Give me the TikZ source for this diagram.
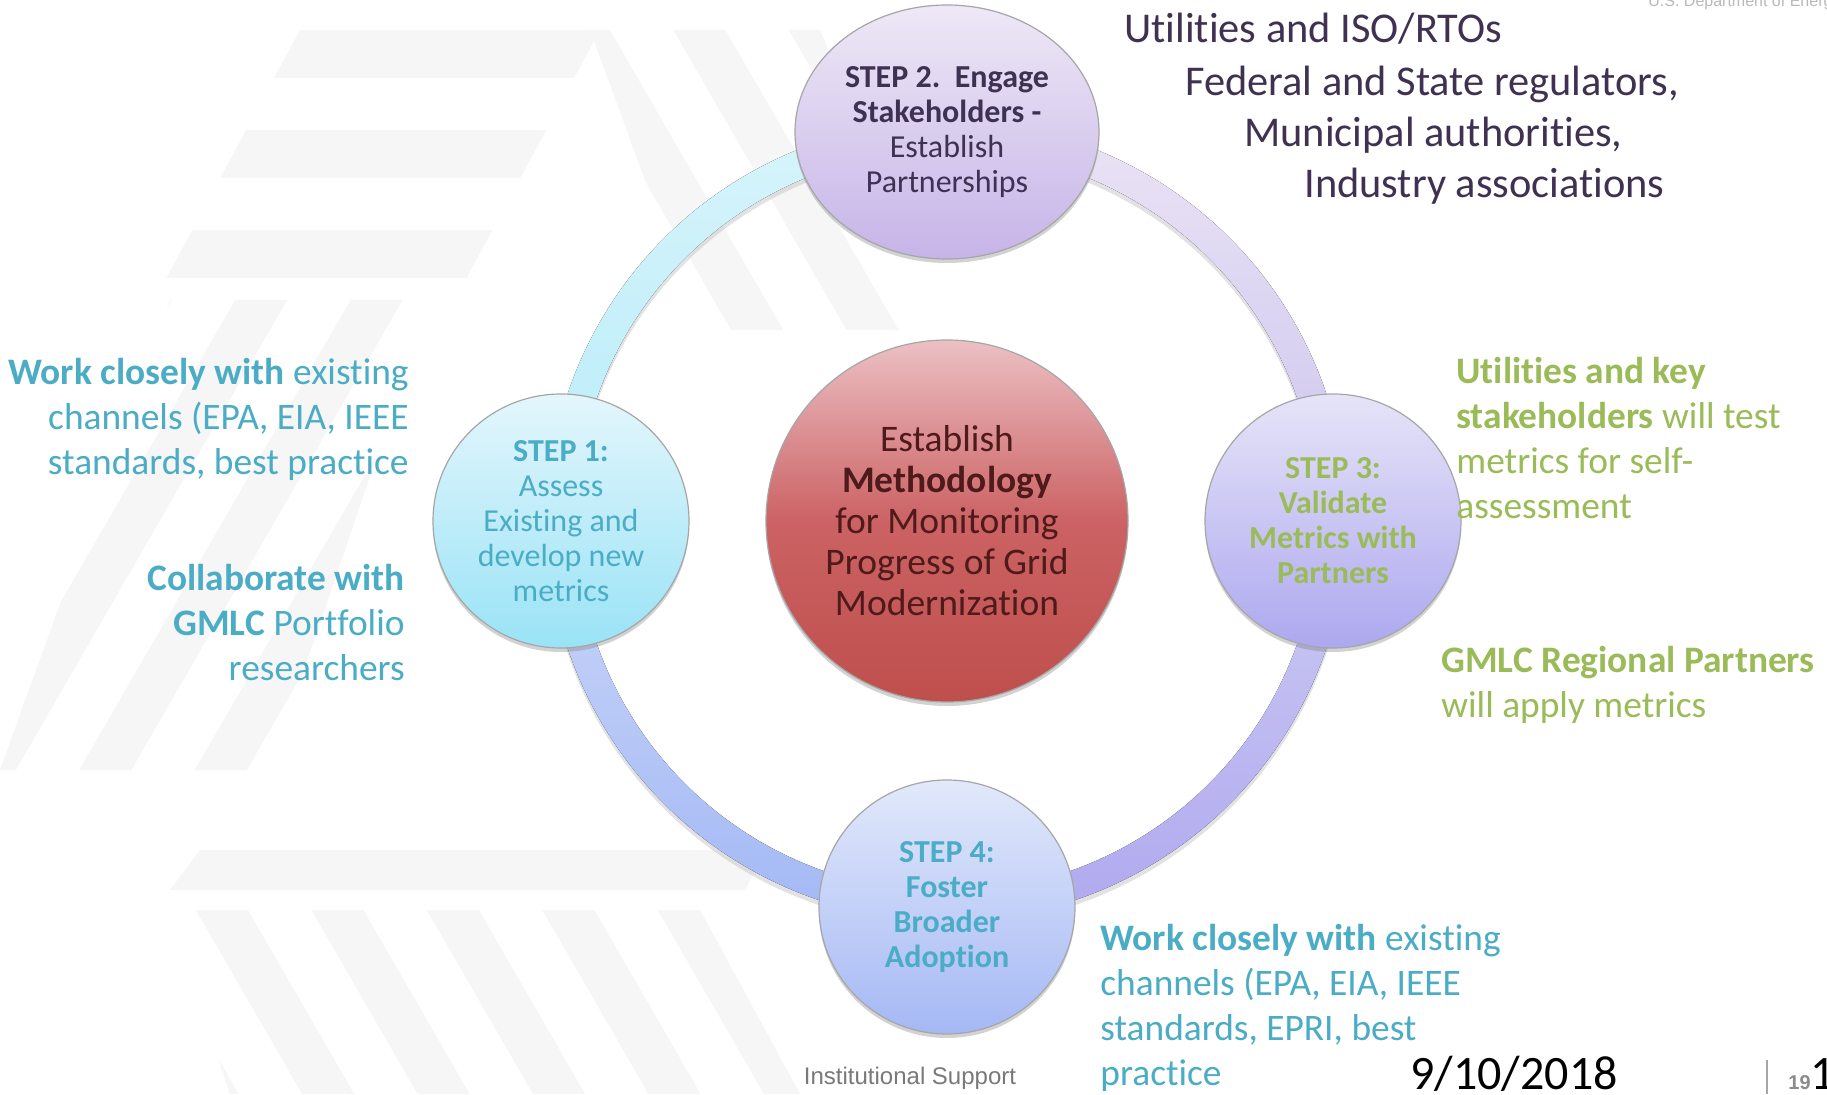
\documentclass[tikz,border=0pt]{standalone}
\usepackage{fontspec}
\setmainfont{Carlito}[Ligatures=NoCommon]
\newfontfamily\arialfont{Liberation Sans}
\usepackage{tikz}
\usetikzlibrary{positioning, calc, shapes.geometric, shadows}

\definecolor{tealtxt}{HTML}{4BACC6}
\definecolor{greentxt}{HTML}{9BBB59}
\definecolor{purpletxt}{HTML}{3F3151}
\definecolor{redtxt}{HTML}{4E1A1A}
\definecolor{ringtl}{HTML}{D8F4FB}
\definecolor{ringtlb}{HTML}{B6ECF9}
\definecolor{ringtr}{HTML}{EBE4F5}
\definecolor{ringtrb}{HTML}{CBC4EE}
\definecolor{ringbl}{HTML}{CBD7F8}
\definecolor{ringblb}{HTML}{A3B8F5}
\definecolor{ringbr}{HTML}{CCCBF3}
\definecolor{ringbrb}{HTML}{B0A9EF}

\tikzset{
  stepcircle/.style={ellipse, draw=gray!70, line width=0.6pt, align=center, inner sep=0pt,
    minimum width=128pt, minimum height=127pt,
    drop shadow={shadow xshift=0pt, shadow yshift=-2pt, opacity=.35},
    font=\fontsize{16}{17.5}\selectfont},
  sidetext/.style={inner sep=0pt, font=\fontsize{18.7}{22.5}\selectfont},
  toptext/.style={anchor=base west, inner sep=0pt, text=purpletxt, font=\fontsize{21.2}{25}\selectfont},
  stripe/.style={fill=gray!7}
}

\begin{document}
\begin{tikzpicture}[x=0.5pt, y=0.5pt, node distance=193pt]
  \useasboundingbox (0,0) rectangle (1827,1094);
  \fill[white] (0,0) rectangle (1827,1094);

  % faint logo watermark
  \begin{scope}
    \clip (300,1064) -- (600,1064) -- (460,804) -- (160,804) -- cycle;
    \foreach \k in {0,1,2}
      \fill[stripe] (0,{816+\k*100}) rectangle (1000,{864+\k*100});
  \end{scope}
  \begin{scope}
    \clip (590,1064) -- (820,1064) -- (940,764) -- (700,764) -- cycle;
    \foreach \k in {-4,...,4}
      \fill[stripe, rotate around={30:(760,914)}] ({760+\k*100},400) rectangle ++(45,1000);
  \end{scope}
  \begin{scope}
    \clip (170,794) -- (430,794) -- (270,324) -- (0,324) -- cycle;
    \foreach \k in {-5,...,5}
      \fill[stripe, rotate around={-30:(215,559)}] ({215+\k*100},0) rectangle ++(45,1200);
  \end{scope}
  \fill[stripe] (200,244) -- (765,244) -- (745,204) -- (170,204) -- cycle;
  \begin{scope}
    \clip (170,184) -- (700,184) -- (800,0) -- (230,0) -- cycle;
    \foreach \k in {-6,...,6}
      \fill[stripe, rotate around={30:(480,92)}] ({480+\k*100},-500) rectangle ++(45,1200);
  \end{scope}

  % ring
  \coordinate (hub) at (947,573);
  \fill[gray!45, opacity=.5, even odd rule] ($(hub)+(0,-5)$) circle[radius=400] circle[radius=371];
  \foreach \sa/\ct/\cb in {90/ringtl/ringtlb, 0/ringtr/ringtrb, 180/ringbl/ringblb, 270/ringbr/ringbrb}
    \fill[top color=\ct, bottom color=\cb]
      ($(hub)+(\sa:400)$) arc[start angle=\sa, delta angle=90, radius=400]
      -- ($(hub)+({\sa+90}:371)$) arc[start angle={\sa+90}, delta angle=-90, radius=371] -- cycle;

  % circles
  \node[stepcircle, circle, minimum size=181pt, font=\fontsize{18.75}{20.5}\selectfont, text=redtxt,
    top color={rgb,255:red,236;green,192;blue,196}, bottom color={rgb,255:red,190;green,79;blue,76},
    middle color={rgb,255:red,204;green,98;blue,100}] (method) at (hub)
    {Establish\\\textbf{Methodology}\\for Monitoring\\Progress of Grid\\Modernization};
  \node[stepcircle, left of=method, text=tealtxt,
    top color={rgb,255:red,228;green,246;blue,252}, bottom color={rgb,255:red,153;green,227;blue,246}] (s1)
    {\textbf{STEP 1:}\\Assess\\Existing and\\develop new\\metrics};
  \node[stepcircle, above of=method, node distance=194.5pt, minimum width=152pt, text=purpletxt,
    top color={rgb,255:red,238;green,232;blue,246}, bottom color={rgb,255:red,198;green,180;blue,232}] (s2)
    {\textbf{STEP 2.\ \ Engage}\\\textbf{Stakeholders -}\\Establish\\Partnerships};
  \node[stepcircle, right of=method, text=greentxt, font=\bfseries\fontsize{16}{17.5}\selectfont,
    top color={rgb,255:red,230;green,228;blue,248}, bottom color={rgb,255:red,173;green,168;blue,239}] (s3)
    {STEP 3:\\Validate\\Metrics with\\Partners};
  \node[stepcircle, below of=method, text=tealtxt, font=\bfseries\fontsize{16}{17.5}\selectfont,
    top color={rgb,255:red,226;green,233;blue,251}, bottom color={rgb,255:red,165;green,184;blue,244}] (s4)
    {STEP 4:\\Foster\\Broader\\Adoption};

  % stakeholders
  \node[toptext] (util1) at (1124,1051) {Utilities and ISO/RTOs};
  \node[toptext] (util2) at (1185,998) {Federal and State regulators,};
  \node[toptext] (util3) at (1244,947) {Municipal authorities,};
  \node[toptext] (util4) at (1304,896) {Industry associations};

  % side notes
  \node[sidetext, anchor=east, align=right, text=tealtxt] (work1) at (409,675)
    {\textbf{Work closely with} existing\\channels (EPA, EIA, IEEE\\standards, best practice};
  \node[sidetext, anchor=east, align=right, text=tealtxt] (collab) at (405,471)
    {\textbf{Collaborate with}\\\textbf{GMLC} Portfolio\\researchers};
  \node[sidetext, anchor=west, align=left, text=greentxt] (test) at (1456,656)
    {\textbf{Utilities and key}\\\textbf{stakeholders} will test\\metrics for self-\\assessment};
  \node[sidetext, anchor=west, align=left, text=greentxt] (apply) at (1441,409)
    {\textbf{GMLC Regional Partners}\\will apply metrics};
  \node[sidetext, anchor=west, align=left, text=tealtxt] (work2) at (1100,86)
    {\textbf{Work closely with} existing\\channels (EPA, EIA, IEEE\\standards, EPRI, best\\practice};

  % footer
  \node[inner sep=0pt, text=gray!95!black, font=\arialfont\fontsize{12}{14}\selectfont] (inst) at (910,16) {Institutional Support};
  \node[anchor=base west, inner sep=0pt, font=\fontsize{24}{28}\selectfont] (date) at (1410,5) {9/10/2018};
  \draw[gray!70, line width=1pt] (1767,0) -- (1767,34);
  \node[anchor=base west, inner sep=0pt, text=gray!90, font=\arialfont\bfseries\fontsize{10}{12}\selectfont] (page) at (1788,5) {19};
  \node[anchor=base west, inner sep=0pt, font=\fontsize{24}{28}\selectfont] (one) at (1810,5) {1};
  \node[anchor=base west, inner sep=0pt, text=gray!55, font=\arialfont\fontsize{8}{10}\selectfont] (doe) at (1648,1087) {U.S. Department of Energy};
\end{tikzpicture}
\end{document}
